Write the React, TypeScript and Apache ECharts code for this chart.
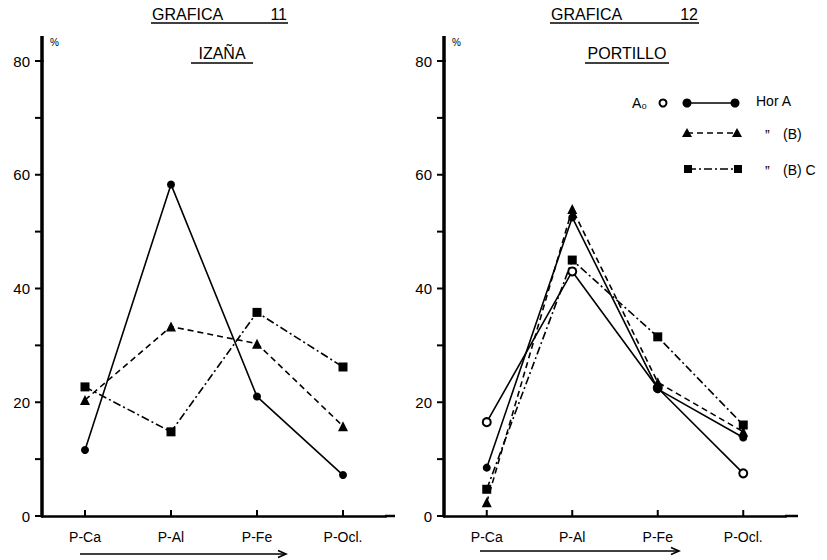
import React, { useEffect, useRef } from "react";
import * as echarts from "echarts";

const categories = ["P-Ca", "P-Al", "P-Fe", "P-Ocl."];
const yLabelValues = [0, 20, 40, 60, 80];
const yTickValues = [0, 10, 20, 30, 40, 50, 60, 70, 80];
const Y_MAX = 80;

// Grafica 11 - Izaña
const izanaHorA = [11.6, 58.3, 21.0, 7.2];
const izanaB = [20.4, 33.3, 30.3, 15.8];
const izanaBC = [22.7, 14.8, 35.8, 26.2];

// Grafica 12 - Portillo
const portilloA0 = [16.5, 43.0, 22.5, 7.5];
const portilloHorA = [8.5, 52.5, 22.3, 13.8];
const portilloB = [2.4, 54.0, 23.5, 14.8];
const portilloBC = [4.7, 45.0, 31.5, 16.0];

const FONT = "Liberation Sans";
const DASHED = [6, 4];
const DASHDOT = [8, 3, 2, 3];
const GRIDS = [
  { left: 42, top: 61, width: 344, height: 455 },
  { left: 444, top: 61, width: 342, height: 455 },
];

function xAxisCfg(gridIndex: number) {
  return {
    gridIndex,
    type: "category",
    data: categories,
    boundaryGap: true,
    axisLine: { show: true, onZero: false, lineStyle: { color: "#000", width: 2.5 } },
    axisTick: { show: false },
    axisLabel: {
      color: "#000",
      fontSize: 14,
      fontFamily: FONT,
      margin: 14,
    },
    splitLine: { show: false },
  };
}

function yAxisCfg(gridIndex: number) {
  return {
    gridIndex,
    type: "value",
    min: 0,
    max: Y_MAX,
    interval: 10,
    axisLine: { show: true, onZero: false, lineStyle: { color: "#000", width: 3.5 } },
    axisTick: { show: false },
    axisLabel: {
      customValues: yLabelValues,
      color: "#000",
      fontSize: 15,
      fontFamily: FONT,
      margin: 12,
    },
    splitLine: { show: false },
  };
}

function lineSeries(name: string, idx: number, vals: number[], symbol: string, size: number, dash: any) {
  return {
    name,
    type: "line",
    xAxisIndex: idx,
    yAxisIndex: idx,
    data: vals,
    symbol,
    symbolSize: size,
    showSymbol: true,
    itemStyle: { color: "#000", borderColor: "#000", borderWidth: symbol === "emptyCircle" ? 1.8 : 0 },
    lineStyle: { color: "#000", width: 1.6, type: dash },
    z: 3,
  };
}

function txt(text: string, x: number, y: number, size: number, align = "left") {
  return {
    type: "text",
    x,
    y,
    style: {
      text,
      fill: "#000",
      fontSize: size,
      fontFamily: FONT,
      align,
      textAlign: align,
      verticalAlign: "middle",
      textVerticalAlign: "middle",
    },
  };
}

function seg(x1: number, y1: number, x2: number, y2: number, w: number, dash: any = null) {
  return {
    type: "line",
    shape: { x1, y1, x2, y2 },
    style: { stroke: "#000", lineWidth: w, lineDash: dash },
    z: 10,
  };
}

function hline(x1: number, x2: number, y: number, w: number, dash: any = null) {
  return seg(x1, y, x2, y, w, dash);
}

function vline(x: number, y1: number, y2: number, w: number) {
  return seg(x, y1, x, y2, w);
}

function tri(x: number, y: number) {
  return {
    type: "polygon",
    shape: { points: [[x - 5, y + 4], [x + 5, y + 4], [x, y - 5]] },
    style: { fill: "#000" },
  };
}

function sq(x: number, y: number) {
  return { type: "rect", shape: { x: x - 4, y: y - 4, width: 8, height: 8 }, style: { fill: "#000" } };
}

function dot(x: number, y: number, r: number, open = false) {
  return {
    type: "circle",
    shape: { cx: x, cy: y, r },
    style: open ? { fill: "#fff", stroke: "#000", lineWidth: 2 } : { fill: "#000" },
  };
}

function arrow(x1: number, x2: number, y: number) {
  return [
    hline(x1, x2, y, 1.6),
    {
      type: "polyline",
      shape: { points: [[x2 - 8, y - 3.5], [x2, y], [x2 - 8, y + 3.5]] },
      style: { stroke: "#000", lineWidth: 1.6, fill: null },
    },
  ];
}

function axisTicks() {
  const out: any[] = [];
  GRIDS.forEach((g) => {
    const ax = g.left;
    const bottom = g.top + g.height;
    yTickValues.forEach((v) => {
      const y = bottom - (v / Y_MAX) * g.height;
      out.push(seg(ax - 7, y, ax, y, 2));
    });
    const band = g.width / categories.length;
    categories.forEach((_, i) => {
      const x = g.left + band * (i + 0.5);
      out.push(seg(x, bottom, x, bottom - 6, 2));
    });
  });
  return out;
}

export default function App() {
  const ref = useRef<HTMLDivElement>(null);

  useEffect(() => {
    if (!ref.current) return;
    const chart = echarts.init(ref.current, null, { renderer: "svg" });
    const graphic: any[] = [
      // Titles
      txt("GRAFICA", 152, 14, 16),
      txt("11", 287, 14, 16, "right"),
      hline(151, 288, 23, 1.6),
      txt("IZAÑA", 222, 53, 16, "center"),
      hline(191, 253, 63, 1.6),
      txt("GRAFICA", 551, 14, 16),
      txt("12", 698, 14, 16, "right"),
      hline(550, 699, 23, 1.6),
      txt("PORTILLO", 627, 53, 16, "center"),
      hline(585, 669, 63, 1.6),
      // axis extensions above 80 and to the right
      vline(42, 36, 62, 3.5),
      vline(444, 36, 62, 3.5),
      hline(385, 395, 516, 2.5),
      hline(785, 798, 516, 2.5),
      // percent signs
      txt("%", 50, 42, 10),
      txt("%", 452, 42, 10),
      // legend
      txt("A₀", 632, 103, 14),
      dot(663, 103, 3.5, true),
      hline(687, 735, 103, 1.6),
      dot(687, 103, 4.5),
      dot(735, 103, 4.5),
      txt("Hor A", 756, 101, 14),
      hline(687, 737, 133, 1.6, DASHED),
      tri(687, 133),
      tri(737, 133),
      txt("\u201D", 765, 135, 14),
      txt("(B)", 783, 134, 14),
      hline(688, 738, 169, 1.6, DASHDOT),
      sq(688, 169),
      sq(738, 169),
      txt("\u201D", 765, 171, 14),
      txt("(B) C", 783, 170, 14),
      // arrows
      ...arrow(80, 286, 554),
      ...arrow(480, 679, 551),
      ...axisTicks(),
    ];

    chart.setOption({
      animation: false,
      backgroundColor: "#fff",
      textStyle: { fontFamily: FONT },
      grid: GRIDS,
      xAxis: [xAxisCfg(0), xAxisCfg(1)],
      yAxis: [yAxisCfg(0), yAxisCfg(1)],
      series: [
        lineSeries("Hor A", 0, izanaHorA, "circle", 8, "solid"),
        lineSeries("(B)", 0, izanaB, "triangle", 10, DASHED),
        lineSeries("(B) C", 0, izanaBC, "rect", 9, DASHDOT),
        lineSeries("A0", 1, portilloA0, "emptyCircle", 8, "solid"),
        lineSeries("Hor A", 1, portilloHorA, "circle", 8, "solid"),
        lineSeries("(B)", 1, portilloB, "triangle", 10, DASHED),
        lineSeries("(B) C", 1, portilloBC, "rect", 9, DASHDOT),
      ],
      graphic,
    });

    return () => chart.dispose();
  }, []);

  return (
    <div
      ref={ref}
      style={{ position: "absolute", left: 0, top: 0, width: 827, height: 560, background: "#fff" }}
    />
  );
}
